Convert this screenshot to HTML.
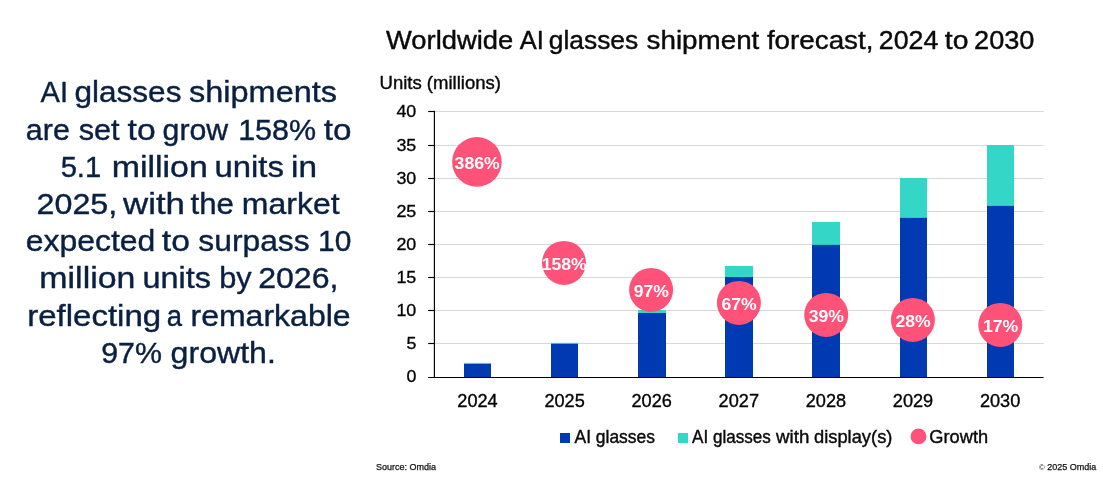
<!DOCTYPE html>
<html lang="en"><head><meta charset="utf-8"><title>Worldwide AI glasses shipment forecast</title>
<style>html,body{margin:0;padding:0;background:#fff}svg{display:block}text{font-family:"Liberation Sans",Arial,sans-serif}</style></head><body>
<svg width="1103" height="478" viewBox="0 0 1103 478">
<rect width="1103" height="478" fill="#fff"/>
<g fill="#0a2042" stroke="#0a2042" stroke-width="0.4" font-size="29.5">
<text y="102.3"><tspan x="40.60" textLength="27.45" lengthAdjust="spacingAndGlyphs">AI</tspan> <tspan x="74.44" textLength="107.01" lengthAdjust="spacingAndGlyphs">glasses</tspan> <tspan x="189.05" textLength="148.02" lengthAdjust="spacingAndGlyphs">shipments</tspan></text>
<text y="139.5"><tspan x="25.88" textLength="44.02" lengthAdjust="spacingAndGlyphs">are</tspan> <tspan x="78.69" textLength="40.95" lengthAdjust="spacingAndGlyphs">set</tspan> <tspan x="127.56" textLength="28.05" lengthAdjust="spacingAndGlyphs">to</tspan> <tspan x="162.59" textLength="65.57" lengthAdjust="spacingAndGlyphs">grow</tspan> <tspan x="238.17" textLength="77.92" lengthAdjust="spacingAndGlyphs">158%</tspan> <tspan x="323.77" textLength="27.73" lengthAdjust="spacingAndGlyphs">to</tspan></text>
<text y="176.7"><tspan x="60.63" textLength="40.51" lengthAdjust="spacingAndGlyphs">5.1</tspan> <tspan x="111.66" textLength="96.14" lengthAdjust="spacingAndGlyphs">million</tspan> <tspan x="214.43" textLength="69.46" lengthAdjust="spacingAndGlyphs">units</tspan> <tspan x="291.10" textLength="25.98" lengthAdjust="spacingAndGlyphs">in</tspan></text>
<text y="214.0"><tspan x="36.54" textLength="80.69" lengthAdjust="spacingAndGlyphs">2025,</tspan> <tspan x="123.05" textLength="61.91" lengthAdjust="spacingAndGlyphs">with</tspan> <tspan x="190.49" textLength="43.44" lengthAdjust="spacingAndGlyphs">the</tspan> <tspan x="241.88" textLength="97.75" lengthAdjust="spacingAndGlyphs">market</tspan></text>
<text y="251.2"><tspan x="25.82" textLength="129.57" lengthAdjust="spacingAndGlyphs">expected</tspan> <tspan x="161.86" textLength="28.05" lengthAdjust="spacingAndGlyphs">to</tspan> <tspan x="198.36" textLength="111.29" lengthAdjust="spacingAndGlyphs">surpass</tspan> <tspan x="318.11" textLength="33.28" lengthAdjust="spacingAndGlyphs">10</tspan></text>
<text y="288.4"><tspan x="39.37" textLength="96.04" lengthAdjust="spacingAndGlyphs">million</tspan> <tspan x="142.56" textLength="68.41" lengthAdjust="spacingAndGlyphs">units</tspan> <tspan x="219.16" textLength="32.44" lengthAdjust="spacingAndGlyphs">by</tspan> <tspan x="258.20" textLength="80.22" lengthAdjust="spacingAndGlyphs">2026,</tspan></text>
<text y="325.6"><tspan x="27.22" textLength="133.93" lengthAdjust="spacingAndGlyphs">reflecting</tspan> <tspan x="166.80" textLength="15.29" lengthAdjust="spacingAndGlyphs">a</tspan> <tspan x="190.48" textLength="160.18" lengthAdjust="spacingAndGlyphs">remarkable</tspan></text>
<text y="362.8"><tspan x="101.18" textLength="60.80" lengthAdjust="spacingAndGlyphs">97%</tspan> <tspan x="170.62" textLength="105.30" lengthAdjust="spacingAndGlyphs">growth.</tspan></text>
</g>
<text y="48.6" font-size="25" fill="#0a0a0a" stroke="#0a0a0a" stroke-width="0.4"><tspan x="386.00" textLength="127.19" lengthAdjust="spacingAndGlyphs">Worldwide</tspan> <tspan x="519.80" textLength="24.03" lengthAdjust="spacingAndGlyphs">AI</tspan> <tspan x="548.74" textLength="89.45" lengthAdjust="spacingAndGlyphs">glasses</tspan> <tspan x="646.64" textLength="112.70" lengthAdjust="spacingAndGlyphs">shipment</tspan> <tspan x="766.92" textLength="106.52" lengthAdjust="spacingAndGlyphs">forecast,</tspan> <tspan x="878.86" textLength="59.43" lengthAdjust="spacingAndGlyphs">2024</tspan> <tspan x="944.82" textLength="23.61" lengthAdjust="spacingAndGlyphs">to</tspan> <tspan x="974.04" textLength="60.44" lengthAdjust="spacingAndGlyphs">2030</tspan></text>
<text x="379.5" y="89" font-size="18.3" fill="#0a0a0a" stroke="#0a0a0a" stroke-width="0.4" textLength="121.5" lengthAdjust="spacingAndGlyphs">Units (millions)</text>
<g stroke="#d8d8d8" stroke-width="1">
<line x1="434.4" x2="1043.6" y1="343.50" y2="343.50"/>
<line x1="434.4" x2="1043.6" y1="310.50" y2="310.50"/>
<line x1="434.4" x2="1043.6" y1="277.50" y2="277.50"/>
<line x1="434.4" x2="1043.6" y1="244.50" y2="244.50"/>
<line x1="434.4" x2="1043.6" y1="211.50" y2="211.50"/>
<line x1="434.4" x2="1043.6" y1="178.50" y2="178.50"/>
<line x1="434.4" x2="1043.6" y1="145.50" y2="145.50"/>
<line x1="434.4" x2="1043.6" y1="111.50" y2="111.50"/>
</g>
<rect x="464" y="362.9" width="27" height="1.60" fill="#33d6c7"/>
<rect x="464" y="364.0" width="27" height="13.50" fill="#003ab2"/>
<rect x="551" y="342.8" width="27" height="1.60" fill="#33d6c7"/>
<rect x="551" y="343.9" width="27" height="33.60" fill="#003ab2"/>
<rect x="638" y="309.9" width="28" height="3.60" fill="#33d6c7"/>
<rect x="638" y="313.0" width="28" height="64.50" fill="#003ab2"/>
<rect x="725" y="265.95" width="28" height="11.60" fill="#33d6c7"/>
<rect x="725" y="277.05" width="28" height="100.45" fill="#003ab2"/>
<rect x="812" y="221.95" width="28" height="23.45" fill="#33d6c7"/>
<rect x="812" y="244.9" width="28" height="132.60" fill="#003ab2"/>
<rect x="900" y="178.0" width="27" height="40.40" fill="#33d6c7"/>
<rect x="900" y="217.9" width="27" height="159.60" fill="#003ab2"/>
<rect x="987" y="145.0" width="27" height="61.40" fill="#33d6c7"/>
<rect x="987" y="205.9" width="27" height="171.60" fill="#003ab2"/>
<g stroke="#000" stroke-width="1.15">
<line x1="434.4" x2="434.4" y1="110.8" y2="377.8"/>
<line x1="428.2" x2="1043.6" y1="377.5" y2="377.5"/>
<line x1="428.2" x2="434.4" y1="343.50" y2="343.50"/>
<line x1="428.2" x2="434.4" y1="310.50" y2="310.50"/>
<line x1="428.2" x2="434.4" y1="277.50" y2="277.50"/>
<line x1="428.2" x2="434.4" y1="244.50" y2="244.50"/>
<line x1="428.2" x2="434.4" y1="211.50" y2="211.50"/>
<line x1="428.2" x2="434.4" y1="178.50" y2="178.50"/>
<line x1="428.2" x2="434.4" y1="145.50" y2="145.50"/>
<line x1="428.2" x2="434.4" y1="111.50" y2="111.50"/>
</g>
<g font-size="16.9" fill="#000" stroke="#000" stroke-width="0.3" text-anchor="end">
<text x="416.3" y="382.10" textLength="9.9" lengthAdjust="spacingAndGlyphs">0</text>
<text x="416.3" y="349.10" textLength="9.9" lengthAdjust="spacingAndGlyphs">5</text>
<text x="416.3" y="316.10" textLength="19.9" lengthAdjust="spacingAndGlyphs">10</text>
<text x="416.3" y="283.10" textLength="19.9" lengthAdjust="spacingAndGlyphs">15</text>
<text x="416.3" y="250.10" textLength="19.9" lengthAdjust="spacingAndGlyphs">20</text>
<text x="416.3" y="217.10" textLength="19.9" lengthAdjust="spacingAndGlyphs">25</text>
<text x="416.3" y="184.10" textLength="19.9" lengthAdjust="spacingAndGlyphs">30</text>
<text x="416.3" y="151.10" textLength="19.9" lengthAdjust="spacingAndGlyphs">35</text>
<text x="416.3" y="117.10" textLength="19.9" lengthAdjust="spacingAndGlyphs">40</text>
</g>
<g font-size="17.7" fill="#000" stroke="#000" stroke-width="0.33" text-anchor="middle">
<text x="477.50" y="407.2" textLength="40.4" lengthAdjust="spacingAndGlyphs">2024</text>
<text x="564.60" y="407.2" textLength="40.4" lengthAdjust="spacingAndGlyphs">2025</text>
<text x="651.70" y="407.2" textLength="40.4" lengthAdjust="spacingAndGlyphs">2026</text>
<text x="738.80" y="407.2" textLength="40.4" lengthAdjust="spacingAndGlyphs">2027</text>
<text x="825.90" y="407.2" textLength="40.4" lengthAdjust="spacingAndGlyphs">2028</text>
<text x="913.00" y="407.2" textLength="40.4" lengthAdjust="spacingAndGlyphs">2029</text>
<text x="1000.10" y="407.2" textLength="40.4" lengthAdjust="spacingAndGlyphs">2030</text>
</g>
<circle cx="476.9" cy="161.9" r="24.8" fill="#ff5278"/>
<circle cx="564.0" cy="262.9" r="22" fill="#ff5278"/>
<circle cx="651.1" cy="289.9" r="22" fill="#ff5278"/>
<circle cx="738.9" cy="302.9" r="22" fill="#ff5278"/>
<circle cx="826.2" cy="314.9" r="22" fill="#ff5278"/>
<circle cx="912.9" cy="319.9" r="22" fill="#ff5278"/>
<circle cx="1000.3" cy="324.9" r="22" fill="#ff5278"/>
<g font-size="17" font-weight="bold" fill="#fff" text-anchor="middle">
<text x="477.1" y="168.75" textLength="45.0" lengthAdjust="spacingAndGlyphs">386%</text>
<text x="564.2" y="269.75" textLength="45.0" lengthAdjust="spacingAndGlyphs">158%</text>
<text x="651.3" y="296.75" textLength="35.2" lengthAdjust="spacingAndGlyphs">97%</text>
<text x="739.1" y="309.75" textLength="35.2" lengthAdjust="spacingAndGlyphs">67%</text>
<text x="826.4" y="321.75" textLength="35.2" lengthAdjust="spacingAndGlyphs">39%</text>
<text x="913.1" y="326.75" textLength="35.2" lengthAdjust="spacingAndGlyphs">28%</text>
<text x="1000.5" y="331.75" textLength="35.2" lengthAdjust="spacingAndGlyphs">17%</text>
</g>
<rect x="560" y="433" width="10" height="10" fill="#003ab2"/>
<rect x="678" y="433" width="10" height="10" fill="#33d6c7"/>
<circle cx="918.5" cy="436.4" r="7.9" fill="#ff5278"/>
<g font-size="18.2" fill="#0a0a0a" stroke="#0a0a0a" stroke-width="0.4">
<text x="574.5" y="442.7" textLength="80.5" lengthAdjust="spacingAndGlyphs">AI glasses</text>
<text x="692" y="442.7" textLength="78.8" lengthAdjust="spacingAndGlyphs">AI glasses</text>
<text x="776.1" y="442.7" textLength="33.3" lengthAdjust="spacingAndGlyphs">with</text>
<text x="814.0" y="442.7" textLength="78.4" lengthAdjust="spacingAndGlyphs">display(s)</text>
<text x="929.3" y="442.7" textLength="58.8" lengthAdjust="spacingAndGlyphs">Growth</text>
</g>
<g font-size="9" fill="#111" stroke="#111" stroke-width="0.25">
<text x="376" y="470">Source: Omdia</text>
<text x="1096.3" y="470" text-anchor="end"><tspan font-size="7.8" stroke="none">©</tspan> 2025 Omdia</text>
</g>
</svg></body></html>
